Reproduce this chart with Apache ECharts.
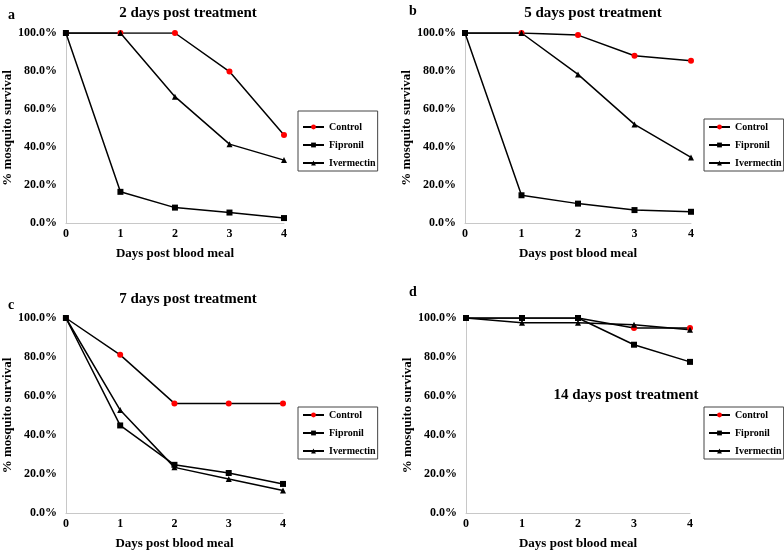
<!DOCTYPE html>
<html>
<head>
<meta charset="utf-8">
<script src="https://cdn.jsdelivr.net/npm/echarts@6/dist/echarts.min.js"></script>
<style>
  html, body { margin: 0; padding: 0; background: #fff; }
  #main { width: 784px; height: 553px; }
</style>
</head>
<body>
<div id="main"></div>
<script>
// days post blood meal
const days = [0, 1, 2, 3, 4];
const yTicks = [0, 20, 40, 60, 80, 100];

// % survival, one array per panel/series
const controlA = [100, 100, 100, 79.7, 46.3];
const fipronilA = [100, 16.4, 8.1, 5.5, 2.6];
const ivermectinA = [100, 100, 66.5, 41.5, 33.1];

const controlB = [100, 100, 98.9, 88.0, 85.4];
const fipronilB = [100, 14.6, 10.2, 6.8, 5.9];
const ivermectinB = [100, 100, 78.2, 51.9, 34.5];

const controlC = [100, 81.1, 56.2, 56.2, 56.2];
const fipronilC = [100, 44.9, 24.7, 20.5, 14.9];
const ivermectinC = [100, 52.8, 23.4, 17.4, 11.5];

const controlD = [100, 100, 100, 94.9, 94.9];
const fipronilD = [100, 100, 100, 86.3, 77.5];
const ivermectinD = [100, 97.6, 97.6, 96.6, 94.0];

const panelTitles = ['2 days post treatment', '5 days post treatment', '7 days post treatment', '14 days post treatment'];
const panelLetters = ['a', 'b', 'c', 'd'];

const FONT = "'Times New Roman', 'Liberation Serif', serif";

var panels = [
	{ control: controlA, fipronil: fipronilA, ivermectin: ivermectinA },
	{ control: controlB, fipronil: fipronilB, ivermectin: ivermectinB },
	{ control: controlC, fipronil: fipronilC, ivermectin: ivermectinC },
	{ control: controlD, fipronil: fipronilD, ivermectin: ivermectinD }
];

// layout of each panel (grid box, legend box, titles)
var layout = [
	{ grid: { left: 63, top: 33, width: 221, height: 190 }, legend: { left: 298, top: 111, padTop: 11 },
	  title: { x: 183, y: 1 }, letter: { x: 3, y: 3 } },
	{ grid: { left: 465, top: 33, width: 226, height: 190 }, legend: { left: 704, top: 119, padTop: 3 },
	  title: { x: 588, y: 1 }, letter: { x: 404, y: -1 } },
	{ grid: { left: 63, top: 318, width: 220, height: 195 }, legend: { left: 298, top: 407, padTop: 3 },
	  title: { x: 183, y: 287 }, letter: { x: 3, y: 293 } },
	{ grid: { left: 466, top: 318, width: 224, height: 195 }, legend: { left: 704, top: 407, padTop: 3 },
	  title: { x: 621, y: 383 }, letter: { x: 404, y: 280 } }
];

function pairs(values) {
	return days.map(function(d, i) { return [d, values[i]]; });
}

var grids = [], xAxes = [], yAxes = [], series = [], legends = [], titles = [];

layout.forEach(function(l, i) {
	grids.push(l.grid);
	xAxes.push({
		type: 'value', gridIndex: i, min: 0, max: 4, interval: 1,
		name: 'Days post blood meal', nameLocation: 'middle', nameGap: 24,
		nameTextStyle: { fontFamily: FONT, fontWeight: 'bold', fontSize: 13, color: '#000' },
		axisLine: { lineStyle: { color: '#c8c8c8', width: 1 } },
		axisTick: { show: false },
		splitLine: { show: false },
		axisLabel: { fontFamily: FONT, fontWeight: 'bold', fontSize: 12, color: '#000', margin: 5 }
	});
	yAxes.push({
		type: 'value', gridIndex: i, min: yTicks[0], max: yTicks[yTicks.length - 1], interval: 20,
		name: '% mosquito survival', nameLocation: 'middle', nameGap: 49,
		nameTextStyle: { fontFamily: FONT, fontWeight: 'bold', fontSize: 13, color: '#000' },
		axisLine: { show: true, lineStyle: { color: '#c8c8c8', width: 1 } },
		axisTick: { show: false },
		splitLine: { show: false },
		axisLabel: {
			fontFamily: FONT, fontWeight: 'bold', fontSize: 12, color: '#000', margin: 9,
			formatter: function(v) { return v.toFixed(1) + '%'; }
		}
	});
	var p = panels[i];
	series.push({
		name: 'Control', type: 'line', xAxisIndex: i, yAxisIndex: i, data: pairs(p.control),
		symbol: 'circle', symbolSize: 6, z: 3,
		lineStyle: { color: '#000', width: 1.5 }, itemStyle: { color: '#ff0000' }
	});
	series.push({
		name: 'Fipronil', type: 'line', xAxisIndex: i, yAxisIndex: i, data: pairs(p.fipronil),
		symbol: 'rect', symbolSize: 6, z: 4,
		lineStyle: { color: '#000', width: 1.5 }, itemStyle: { color: '#000' }
	});
	series.push({
		name: 'Ivermectin', type: 'line', xAxisIndex: i, yAxisIndex: i, data: pairs(p.ivermectin),
		symbol: 'triangle', symbolSize: 6, z: 3,
		lineStyle: { color: '#000', width: 1.5 }, itemStyle: { color: '#000' }
	});
	legends.push({
		left: l.legend.left, top: l.legend.top, orient: 'vertical',
		data: ['Control', 'Fipronil', 'Ivermectin'],
		itemWidth: 21, itemHeight: 6, itemGap: 8,
		padding: [l.legend.padTop, 2, 3, 4],
		borderColor: '#444', borderWidth: 1,
		textStyle: { fontFamily: FONT, fontWeight: 'bold', fontSize: 10, color: '#000' }
	});
	titles.push({
		text: panelTitles[i], left: l.title.x, top: l.title.y, textAlign: 'center',
		textStyle: { fontFamily: FONT, fontWeight: 'bold', fontSize: 15, color: '#000' }
	});
	titles.push({
		text: panelLetters[i], left: l.letter.x, top: l.letter.y,
		textStyle: { fontFamily: FONT, fontWeight: 'bold', fontSize: 14, color: '#000' }
	});
});

var chart = echarts.init(document.getElementById('main'));
chart.setOption({
	animation: false,
	backgroundColor: '#fff',
	title: titles,
	legend: legends,
	grid: grids,
	xAxis: xAxes,
	yAxis: yAxes,
	series: series
});
</script>
</body>
</html>
